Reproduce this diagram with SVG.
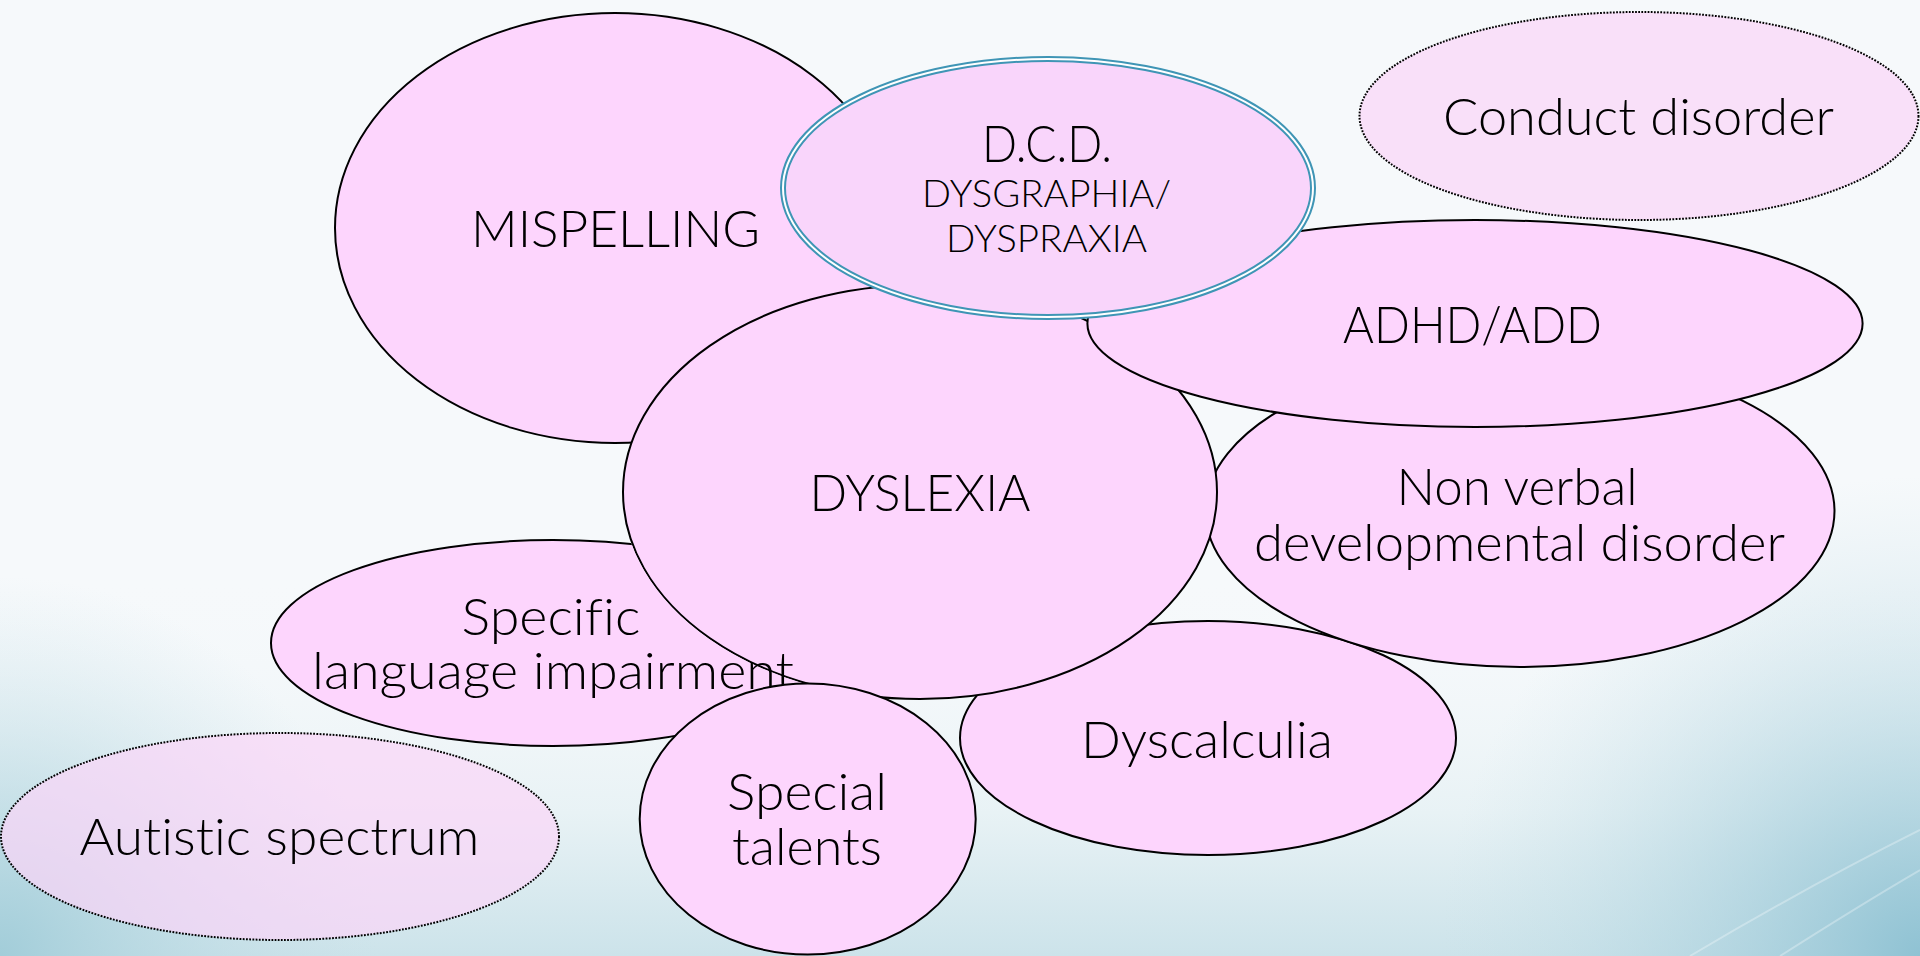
<svg xmlns="http://www.w3.org/2000/svg" width="1920" height="956" viewBox="0 0 1920 956">
<defs>
<style>
.n{fill:#fdd5fd;stroke:#000;stroke-width:2}
.dcd{fill:#f9d5fb}
.dot{fill:#fbd6f8;fill-opacity:.7;stroke:#000;stroke-width:2;stroke-dasharray:1.8 1.4}
.t{font-family:Lato,"Liberation Sans",Arial,sans-serif;font-weight:300;font-size:52px;text-anchor:middle;fill:#000;font-variant-ligatures:none;font-feature-settings:"liga" 0,"dlig" 0}
.s{font-size:38px}
</style>
<linearGradient id="bgv" x1="0" y1="0" x2="0" y2="1">
<stop offset="0.6" stop-color="#f6f9fb" stop-opacity="0"/>
<stop offset="0.85" stop-color="#e8f2f5"/>
<stop offset="1" stop-color="#cce3ea"/>
</linearGradient>
<radialGradient id="br" cx="1920" cy="956" r="480" gradientUnits="userSpaceOnUse">
<stop offset="0" stop-color="#8fc2d3"/>
<stop offset="1" stop-color="#c6e0e8" stop-opacity="0"/>
</radialGradient>
<radialGradient id="bl" cx="0" cy="956" r="380" gradientUnits="userSpaceOnUse">
<stop offset="0" stop-color="#a2cdd9"/>
<stop offset="1" stop-color="#c6e0e8" stop-opacity="0"/>
</radialGradient>
<mask id="m-dys">
<rect x="0" y="0" width="1920" height="956" fill="#fff"/>
<ellipse cx="920" cy="492" rx="298" ry="208" fill="#000"/>
</mask>
</defs>

<g id="background">
<rect x="0" y="0" width="1920" height="956" fill="#f6f9fb"/>
<rect x="0" y="0" width="1920" height="956" fill="url(#bgv)"/>
<rect x="0" y="0" width="1920" height="956" fill="url(#br)"/>
<rect x="0" y="0" width="1920" height="956" fill="url(#bl)"/>
<path d="M1690 956 Q1810 885 1920 830" fill="none" stroke="#fff" stroke-opacity=".3" stroke-width="2"/>
<path d="M1780 956 Q1860 905 1920 870" fill="none" stroke="#fff" stroke-opacity=".3" stroke-width="2"/>
</g>

<g id="connectors"/>

<g id="conduct-disorder">
<ellipse class="dot" cx="1639" cy="116" rx="279.5" ry="104"/>
<text class="t" x="1638.5" y="135" textLength="391" lengthAdjust="spacingAndGlyphs">Conduct disorder</text>
</g>

<g id="autistic-spectrum">
<ellipse class="dot" cx="280" cy="836.5" rx="279" ry="103.5"/>
<text class="t" x="279.5" y="855" textLength="400" lengthAdjust="spacingAndGlyphs">Autistic spectrum</text>
</g>

<g id="mispelling">
<ellipse class="n" cx="615" cy="228" rx="280" ry="215"/>
<text class="t" x="615.5" y="247" textLength="289" lengthAdjust="spacingAndGlyphs">MISPELLING</text>
</g>

<g id="dyscalculia">
<ellipse class="n" cx="1208" cy="738" rx="248" ry="117"/>
<text class="t" x="1207" y="758" textLength="252" lengthAdjust="spacingAndGlyphs">Dyscalculia</text>
</g>

<g id="non-verbal">
<ellipse class="n" cx="1520" cy="511" rx="314.5" ry="156"/>
<text class="t" x="1517" y="505" textLength="241" lengthAdjust="spacingAndGlyphs">Non verbal</text>
<text class="t" x="1519.5" y="561" textLength="531" lengthAdjust="spacingAndGlyphs">developmental disorder</text>
</g>

<g id="dyslexia">
<ellipse class="n" cx="920" cy="492" rx="297" ry="207"/>
<text class="t" x="920" y="511" textLength="221" lengthAdjust="spacingAndGlyphs">DYSLEXIA</text>
</g>

<g id="specific-language-impairment">
<ellipse class="n" cx="553" cy="643" rx="282" ry="103" mask="url(#m-dys)"/>
<text class="t" x="551" y="635" textLength="179" lengthAdjust="spacingAndGlyphs">Specific</text>
<text class="t" x="553" y="689" textLength="482" lengthAdjust="spacingAndGlyphs">language impairment</text>
</g>

<g id="adhd-add">
<ellipse class="n" cx="1475" cy="323.5" rx="387.6" ry="103.5"/>
<text class="t" x="1472.5" y="343" textLength="259" lengthAdjust="spacingAndGlyphs">ADHD/ADD</text>
</g>

<g id="dcd">
<ellipse class="dcd" cx="1048" cy="188" rx="265" ry="129" stroke="#3f95b5" stroke-width="6"/>
<ellipse cx="1048" cy="188" rx="265" ry="129" fill="none" stroke="#fff" stroke-width="2"/>
<text class="t" x="1047" y="162" textLength="130" lengthAdjust="spacingAndGlyphs">D.C.D.</text>
<text class="t s" x="1046.5" y="207" textLength="249" lengthAdjust="spacingAndGlyphs">DYSGRAPHIA/</text>
<text class="t s" x="1046.5" y="252" textLength="201" lengthAdjust="spacingAndGlyphs">DYSPRAXIA</text>
</g>

<g id="special-talents">
<ellipse class="n" cx="807.7" cy="819" rx="168" ry="135.5"/>
<text class="t" x="807" y="810" textLength="160" lengthAdjust="spacingAndGlyphs">Special</text>
<text class="t" x="807" y="865" textLength="150" lengthAdjust="spacingAndGlyphs">talents</text>
</g>
</svg>
